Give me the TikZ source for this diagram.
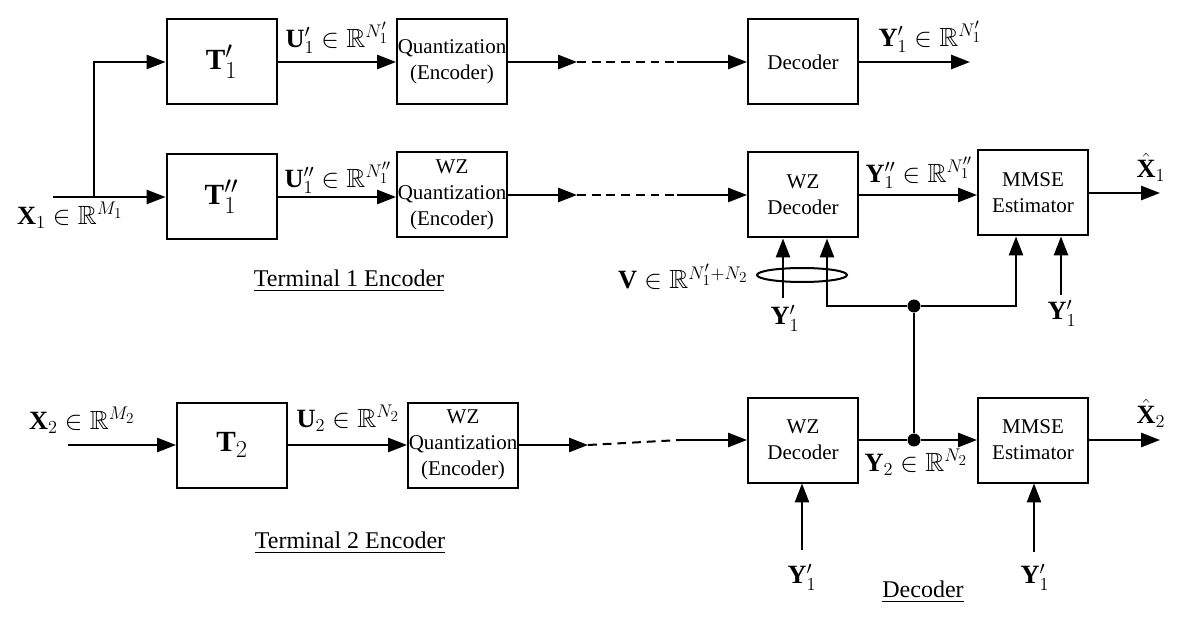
\documentclass[tikz,border=0pt]{standalone}
\usepackage{amsmath,amssymb}
\usepackage{fontspec}
\setmainfont{Liberation Serif}
\usetikzlibrary{arrows.meta,calc}
\begin{document}
\begin{tikzpicture}[x=0.85pt,y=-0.85pt,
  ln/.style={line width=1.7pt},
  arr/.style={line width=1.7pt,-{Triangle[length=16pt,width=12pt]}},
  dsh/.style={line width=1.7pt,dash pattern=on 7.5pt off 5pt},
  box/.style={draw,line width=1.7pt,minimum width=93.5pt,minimum height=72.25pt,inner sep=0pt,align=center,font=\fontsize{17.85}{22}\selectfont},
  lab/.style={inner sep=0pt,font=\huge,scale=1.08},
  ttl/.style={inner sep=0pt,font=\fontsize{20.4}{24}\selectfont},
  dot/.style={circle,fill,inner sep=0pt,minimum size=11pt}]
\useasboundingbox (0,0) rectangle (1200,624);
% boxes
\node[box] (t1p) at (221.5,62) {\Huge$\mathbf{T}_1'$};
\node[box] (t1pp) at (221.5,197) {\Huge$\mathbf{T}_1''$};
\node[box] (q1) at (452,62) {Quantization\\(Encoder)};
\node[box] (wzq1) at (452,195) {WZ\\Quantization\\(Encoder)};
\node[box] (dec1) at (803,62) {Decoder};
\node[box] (wzd1) at (803,195) {WZ\\Decoder};
\node[box] (mm1) at (1033,193) {MMSE\\Estimator};
\node[box] (t2) at (232,445) {\Huge$\mathbf{T}_2$};
\node[box] (wzq2) at (463,445) {WZ\\Quantization\\(Encoder)};
\node[box] (wzd2) at (803,440) {WZ\\Decoder};
\node[box] (mm2) at (1033,440) {MMSE\\Estimator};
% row 1 / row 2 input
\coordinate (x1in) at (53,197);
\coordinate (br) at (94,197);
\draw[arr] (x1in) -- (t1pp.west);
\draw[arr] (br) |- (t1p.west);
\draw[arr] (t1p) -- (q1);
\coordinate (d1a) at (577,62);
\coordinate (d1b) at (677,62);
\draw[arr] (q1) -- (d1a);
\draw[dsh] (d1a) -- (d1b);
\draw[arr] (d1b) -- (dec1);
\coordinate (o1) at (970,62);
\draw[arr] (dec1) -- (o1);
% row 2
\draw[arr] (t1pp.east) -- (t1pp.east -| wzq1.west);
\coordinate (d2a) at (577,195);
\coordinate (d2b) at (677,195);
\draw[arr] (wzq1) -- (d2a);
\draw[dsh] (d2a) -- (d2b);
\draw[arr] (d2b) -- (wzd1);
\draw[arr] (wzd1.east) -- (wzd1.east -| mm1.west);
\coordinate (o2) at (1160,193);
\draw[arr] (mm1) -- (o2);
% row 3
\coordinate (x2in) at (68,445);
\draw[arr] (x2in) -- (t2);
\draw[arr] (t2) -- (wzq2);
\coordinate (d3a) at (588,445);
\coordinate (d3b) at (680,440);
\draw[arr] (wzq2) -- (d3a);
\draw[dsh] (d3a) -- (d3b);
\draw[arr] (d3b) -- (wzd2);
\node[dot] (j2) at (914,440) {};
\node[dot] (j1) at (914,306) {};
\draw[ln] (wzd2) -- (j2);
\draw[arr] (j2) -- (mm2);
\coordinate (o3) at (1160,440);
\draw[arr] (mm2) -- (o3);
\draw[ln] (j2) -- (j1);
\coordinate (c1) at (827,306);
\coordinate (c2) at (1016,306);
\draw[arr] (j1) -- (c1) -- (c1 |- wzd1.south);
\draw[arr] (j1) -- (c2) -- (c2 |- mm1.south);
% side inputs
\node[lab] (ya) at (785,318) {$\mathbf{Y}_1'$};
\coordinate (yat) at (783,298);
\draw[arr] (yat) -- (yat |- wzd1.south);
\node[lab] (yb) at (1062,313) {$\mathbf{Y}_1'$};
\coordinate (ybt) at (1061,295);
\draw[arr] (ybt) -- (ybt |- mm1.south);
\node[lab] (yc) at (802,577) {$\mathbf{Y}_1'$};
\coordinate (yct) at (802,550);
\draw[arr] (yct) -- (yct |- wzd2.south);
\node[lab] (yd) at (1035,577) {$\mathbf{Y}_1'$};
\coordinate (ydt) at (1034,552);
\draw[arr] (ydt) -- (ydt |- mm2.south);
\draw[ln] (802,275) ellipse [x radius=45, y radius=7];
% labels
\node[lab] (u1p) at (337,38) {$\mathbf{U}_1'\in\mathbb{R}^{N_1'}$};
\node[lab] (u1pp) at (338,178) {$\mathbf{U}_1''\in\mathbb{R}^{N_1''}$};
\node[lab] (x1l) at (70,215) {$\mathbf{X}_1\in\mathbb{R}^{M_1}$};
\node[lab] (y1o) at (930,37) {$\mathbf{Y}_1'\in\mathbb{R}^{N_1'}$};
\node[lab] (y1pp) at (919,173) {$\mathbf{Y}_1''\in\mathbb{R}^{N_1''}$};
\node[lab] (xh1) at (1151,167) {$\hat{\mathbf{X}}_1$};
\node[lab,anchor=east] (vl) at (748,277) {$\mathbf{V}\in\mathbb{R}^{N_1'+N_2}$};
\node[lab] (x2l) at (82,420) {$\mathbf{X}_2\in\mathbb{R}^{M_2}$};
\node[lab] (u2l) at (348,418) {$\mathbf{U}_2\in\mathbb{R}^{N_2}$};
\node[lab] (y2l) at (916,462) {$\mathbf{Y}_2\in\mathbb{R}^{N_2}$};
\node[lab] (xh2) at (1151,413) {$\hat{\mathbf{X}}_2$};
\node[ttl] (te1) at (349,281) {\underline{Terminal 1 Encoder}};
\node[ttl] (te2) at (350,543) {\underline{Terminal 2 Encoder}};
\node[ttl] (dl) at (923,592) {\underline{Decoder}};
\end{tikzpicture}
\end{document}
